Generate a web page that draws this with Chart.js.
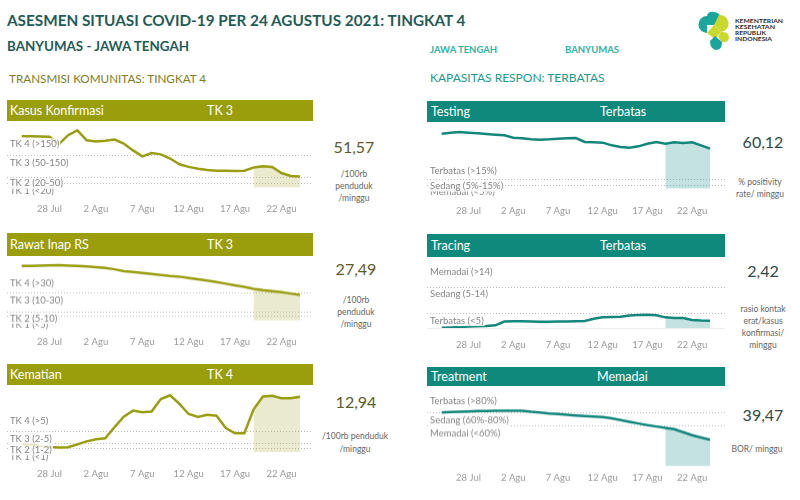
<!DOCTYPE html>
<html lang="id">
<head>
<meta charset="utf-8">
<title>Asesmen Situasi COVID-19 Banyumas</title>
<script src="https://cdn.jsdelivr.net/npm/chart.js@4.4.1/dist/chart.umd.min.js"></script>
<style>
  body { margin:0; width:800px; height:500px; position:relative; overflow:hidden; background:#fff; font-family: Lato, "Open Sans", sans-serif; }
  .t { position:absolute; white-space:nowrap; line-height:18px; height:18px; }
  .bar { position:absolute; color:#fff; font-size:12.5px; }
  .bar span { position:absolute; top:0; }
  .val { position:absolute; text-align:center; font-size:16px; line-height:18px; width:80px; }
  .sub { position:absolute; text-align:center; font-size:8.5px; line-height:12px; color:#666; width:80px; }
  .wrap { position:absolute; }
</style>
</head>
<body>

<div class="t" style="left:7px;top:11px;font-size:15.3px;font-weight:bold;color:#1f5c58">ASESMEN SITUASI COVID-19 PER 24 AGUSTUS 2021: TINGKAT 4</div>
<div class="t" style="left:7px;top:37px;font-size:13.4px;font-weight:bold;color:#1f5c58">BANYUMAS - JAWA TENGAH</div>
<div class="t" style="left:9px;top:69px;font-size:11.7px;color:#7c7d1e">TRANSMISI KOMUNITAS: TINGKAT 4</div>
<div class="t" style="left:430px;top:41px;font-size:9.5px;font-weight:bold;color:#2fb3a3">JAWA TENGAH</div>
<div class="t" style="left:565px;top:41px;font-size:9.5px;font-weight:bold;color:#2fb3a3">BANYUMAS</div>
<div class="t" style="left:430px;top:69px;font-size:12px;color:#1a9a8d">KAPASITAS RESPON: TERBATAS</div>

<!-- logo -->
<svg style="position:absolute;left:688px;top:8px" width="110" height="46">
  <path d="M19 8 A8.5 8.5 0 0 0 19 25 Z" fill="#1aa69a"/>
  <path d="M19 8 Q20 3 26 4 Q33 5 33 11 L26 17 L19 17 Z" fill="#1aa69a"/>
  <path d="M31 7 A8.5 8.5 0 0 1 33 24 L26 17 Z" fill="#c9d92c"/>
  <path d="M19 25 L26 17 L33 24 L27 31 Z" fill="#c9d92c"/>
  <path d="M33 24 Q41 23 41 30 Q40 35 34 34 L30 29 Z" fill="#c9d92c"/>
  <path d="M22 33 L27 28 L34 34 Q34 42 28 42 Q22 41 22 33 Z" fill="#1aa69a"/>
  <g font-size="5.6" font-weight="bold" fill="#2b2b2b" font-family="Lato">
    <text x="47" y="14.7" textLength="48" lengthAdjust="spacingAndGlyphs">KEMENTERIAN</text>
    <text x="47" y="20.7" textLength="40" lengthAdjust="spacingAndGlyphs">KESEHATAN</text>
    <text x="47" y="26.7" textLength="31" lengthAdjust="spacingAndGlyphs">REPUBLIK</text>
    <text x="47" y="32.7" textLength="37" lengthAdjust="spacingAndGlyphs">INDONESIA</text>
  </g>
</svg>

<!-- header panel kiri -->
<div class="bar" style="left:7px;top:100px;width:306px;height:21px;line-height:21px;background:#9a9d0c"><span style="left:3px">Kasus Konfirmasi</span><span style="left:200px">TK 3</span></div>
<div class="bar" style="left:7px;top:233px;width:306px;height:23px;line-height:23px;background:#9a9d0c"><span style="left:3px">Rawat Inap RS</span><span style="left:200px">TK 3</span></div>
<div class="bar" style="left:7px;top:364px;width:306px;height:21px;line-height:21px;background:#9a9d0c"><span style="left:3px">Kematian</span><span style="left:200px">TK 4</span></div>

<!-- header panel kanan -->
<div class="bar" style="left:427px;top:101px;width:298px;height:21px;line-height:21px;background:#10897d"><span style="left:4px">Testing</span><span style="left:173px">Terbatas</span></div>
<div class="bar" style="left:427px;top:234px;width:298px;height:23px;line-height:23px;background:#10897d"><span style="left:4px">Tracing</span><span style="left:173px">Terbatas</span></div>
<div class="bar" style="left:427px;top:367px;width:298px;height:19px;line-height:19px;background:#10897d"><span style="left:4px">Treatment</span><span style="left:170px">Memadai</span></div>

<!-- nilai -->
<div class="val" style="left:314px;top:138px;color:#5b5b28">51,57</div>
<div class="sub" style="left:314px;top:168px">/100rb<br>penduduk<br>/minggu</div>
<div class="val" style="left:316px;top:260px;color:#5b5b28">27,49</div>
<div class="sub" style="left:316px;top:294px">/100rb<br>penduduk<br>/minggu</div>
<div class="val" style="left:316px;top:393px;color:#5b5b28">12,94</div>
<div class="sub" style="left:315px;top:430px;line-height:13px">/100rb penduduk<br>/minggu</div>

<div class="val" style="left:723px;top:133px;color:#2d4a48">60,12</div>
<div class="sub" style="left:720px;top:176px">% positivity<br>rate/ minggu</div>
<div class="val" style="left:723px;top:262px;color:#2d4a48">2,42</div>
<div class="sub" style="left:723px;top:303px">rasio kontak<br>erat/kasus<br>konfirmasi/<br>minggu</div>
<div class="val" style="left:723px;top:406px;color:#2d4a48">39,47</div>
<div class="sub" style="left:717px;top:443px">BOR/ minggu</div>

<script>
// tanggal (25 Jul - 24 Agu 2021)
const tanggal = ['25 Jul','26 Jul','27 Jul','28 Jul','29 Jul','30 Jul','31 Jul',
  '1 Agu','2 Agu','3 Agu','4 Agu','5 Agu','6 Agu','7 Agu','8 Agu','9 Agu','10 Agu',
  '11 Agu','12 Agu','13 Agu','14 Agu','15 Agu','16 Agu','17 Agu','18 Agu','19 Agu',
  '20 Agu','21 Agu','22 Agu','23 Agu','24 Agu'];
const labelSumbuX = ['28 Jul','2 Agu','7 Agu','12 Agu','17 Agu','22 Agu'];
const mulaiArsir = '19 Agu';

// nilai per indikator
const kasusKonfirmasi = [234,234,233,232,198,239,261,216,211,214,219,201,170,143,158,152,133,107,95,87,81,78,78,76,78,92,98,95,67,54,51.57];
const rawatInap = [58.7,58.7,58.9,59.1,59.4,59.0,58.7,58.0,57.2,56.5,55.0,52.9,52.2,51.0,50.0,48.9,47.8,47.1,45.6,44.2,42.8,41.3,39.5,37.7,36.2,34.0,32.6,31.5,30.4,28.9,27.49];
const kematian = [1.9,1.7,1.4,1.15,1.05,1.1,1.8,2.5,3.0,3.2,5.8,8.3,9.7,9.3,9.5,12.4,13.3,11.3,8.9,8.2,8.7,8.5,5.6,4.4,4.4,10.0,13.0,13.2,12.6,12.6,12.94];
const testing = [82.5,84,85,84,83,82,81,80,76.5,75.5,74,73.5,74,75,75.5,76,70,69.5,69,65,62.5,61.5,63.5,67.5,70,67.5,69.5,68.5,69.5,65,60.12];
const tracing = [0.1,0.2,0.3,0.5,0.6,0.7,0.9,2.2,2.3,2.3,2.2,2.1,2.1,2.2,2.2,2.3,2.4,3.1,3.6,3.7,3.8,4.2,4.4,4.5,4.3,3.6,3.4,3.4,2.7,2.5,2.42];
const treatment = [79.8,80.3,80.8,81.3,81.8,82,82.3,82.3,82.3,82.3,80.8,79.8,78.4,77.4,76.4,75.4,74.5,73.7,73,71,68.5,66,63.5,61,59,57,55.1,50.6,46.2,42.7,39.47];

// batas tingkat dan labelnya
const batasKasus = [150, 50, 20];
const teksKasus = ['TK 4 (>150)', 'TK 3 (50-150)', 'TK 2 (20-50)', 'TK 1 (<20)'];
const batasRawat = [30, 10, 5];
const teksRawat = ['TK 4 (>30)', 'TK 3 (10-30)', 'TK 2 (5-10)', 'TK 1 (<5)'];
const batasKematian = [5, 2, 1];
const teksKematian = ['TK 4 (>5)', 'TK 3 (2-5)', 'TK 2 (1-2)', 'TK 1 (<1)'];
const batasTesting = [15, 5];
const teksTesting = ['Terbatas (>15%)', 'Sedang (5%-15%)', 'Memadai (<5%)'];
const batasTracing = [14, 5];
const teksTracing = ['Memadai (>14)', 'Sedang (5-14)', 'Terbatas (<5)'];
const batasTreatment = [80, 60];
const teksTreatment = ['Terbatas (>80%)', 'Sedang (60%-80%)', 'Memadai (<60%)'];

const OLIVE = '#9a9e12', OLIVE_ARSIR = 'rgba(170,172,60,0.25)';
const TEAL = '#13877c', TEAL_ARSIR = 'rgba(19,140,128,0.25)';

// garis titik-titik + label tingkat
const ambangPlugin = {
  id: 'ambang',
  beforeDatasetsDraw(chart, args, o) {
    const { ctx, chartArea, scales: { y } } = chart;
    ctx.save();
    ctx.strokeStyle = '#bdbdbd';
    ctx.lineWidth = 1;
    ctx.setLineDash([1, 2]);
    o.garis.forEach(v => {
      const py = Math.round(y.getPixelForValue(v)) + 0.5;
      ctx.beginPath();
      ctx.moveTo(7, py);
      ctx.lineTo(chartArea.right + o.kanan, py);
      ctx.stroke();
    });
    if (o.nol) {
      ctx.setLineDash([]);
      ctx.strokeStyle = '#ececec';
      const py = Math.round(y.getPixelForValue(0)) + 0.5;
      ctx.beginPath(); ctx.moveTo(7, py); ctx.lineTo(chartArea.right + o.kanan, py); ctx.stroke();
    }
    ctx.restore();
  },
  afterDatasetsDraw(chart, args, o) {
    const { ctx, scales: { y } } = chart;
    ctx.save();
    ctx.font = '9.5px Lato';
    ctx.textBaseline = 'middle';
    for (let i = o.teks.length - 1; i >= 0; i--) {
      const py = y.getPixelForValue(o.posisi[i]);
      const w = ctx.measureText(o.teks[i]).width;
      ctx.fillStyle = 'rgba(255,255,255,0.82)';
      ctx.fillRect(9, py - 5.5, w + 2, 11);
      ctx.fillStyle = '#858585';
      ctx.fillText(o.teks[i], 10, py);
    }
    ctx.restore();
  }
};

const iArsir = tanggal.indexOf(mulaiArsir);

function buatPanel(p) {
  const atasKanvas = p.atas - 4;
  const tinggi = p.bawah - atasKanvas + 30;
  const wrap = document.createElement('div');
  wrap.className = 'wrap';
  wrap.style.left = p.kiri + 'px';
  wrap.style.top = atasKanvas + 'px';
  wrap.style.width = '320px';
  wrap.style.height = tinggi + 'px';
  const cv = document.createElement('canvas');
  wrap.appendChild(cv);
  document.body.appendChild(wrap);

  new Chart(cv, {
    type: 'line',
    data: {
      labels: tanggal,
      datasets: [
        { data: p.nilai, borderColor: p.warna, borderWidth: 2.5, pointRadius: 0, tension: 0, fill: false },
        { data: p.nilai.map((v, i) => i >= iArsir ? v : null), borderWidth: 0, pointRadius: 0,
          backgroundColor: p.arsir, fill: 'start', tension: 0 }
      ]
    },
    options: {
      responsive: true,
      maintainAspectRatio: false,
      animation: false,
      layout: { padding: { left: 21.7, right: p.padKanan, top: 4, bottom: 0 } },
      plugins: {
        legend: { display: false },
        tooltip: { enabled: false },
        ambang: { garis: p.garis, teks: p.teks, posisi: p.posisi, kanan: p.kanan, nol: p.nol }
      },
      scales: {
        x: {
          grid: { display: false, drawTicks: false },
          border: { display: false },
          ticks: {
            autoSkip: false, maxRotation: 0,
            padding: p.tickY - p.bawah - 5.4,
            color: '#9a9a9a',
            font: { size: 9.5, family: 'Lato' },
            callback(v) { const l = this.getLabelForValue(v); return labelSumbuX.includes(l) ? l : ''; }
          },
          afterFit(a) { a.height = 30; }
        },
        y: { display: false, min: p.min, max: p.max }
      }
    },
    plugins: [ambangPlugin]
  });
}

const panels = [
  { nilai: kasusKonfirmasi, warna: OLIVE, arsir: OLIVE_ARSIR, kiri: 0, padKanan: 20, kanan: 13,
    min: 0, max: 290, atas: 123.7, bawah: 187.5, tickY: 208,
    garis: batasKasus, teks: teksKasus, posisi: [200, 115, 20, -16] },
  { nilai: rawatInap, warna: OLIVE, arsir: OLIVE_ARSIR, kiri: 0, padKanan: 20, kanan: 13,
    min: 0, max: 66, atas: 259.3, bawah: 320, tickY: 341,
    garis: batasRawat, teks: teksRawat, posisi: [40.5, 21.7, 2.2, -5] },
  { nilai: kematian, warna: OLIVE, arsir: OLIVE_ARSIR, kiri: 0, padKanan: 20, kanan: 13,
    min: 0, max: 15, atas: 388.3, bawah: 452.3, tickY: 473.5,
    garis: batasKematian, teks: teksKematian, posisi: [7.2, 3.1, 0.54, -1.1] },
  { nilai: testing, warna: TEAL, arsir: TEAL_ARSIR, kiri: 420, padKanan: 30, kanan: 15,
    min: 0, max: 100, atas: 121.6, bawah: 188.3, tickY: 210.5,
    garis: batasTesting, teks: teksTesting, posisi: [26, 3.9, -5.5] },
  { nilai: tracing, warna: TEAL, arsir: TEAL_ARSIR, kiri: 420, padKanan: 30, kanan: 15, nol: true,
    min: 0, max: 24, atas: 257.3, bawah: 328.3, tickY: 344.5,
    garis: batasTracing, teks: teksTracing, posisi: [18.9, 11.6, 2.5] },
  { nilai: treatment, warna: TEAL, arsir: TEAL_ARSIR, kiri: 420, padKanan: 30, kanan: 15,
    min: 0, max: 110, atas: 392.4, bawah: 466, tickY: 476.7,
    garis: batasTreatment, teks: teksTreatment, posisi: [96, 67.5, 49.3] }
];

panels.forEach(buatPanel);
</script>
</body>
</html>
